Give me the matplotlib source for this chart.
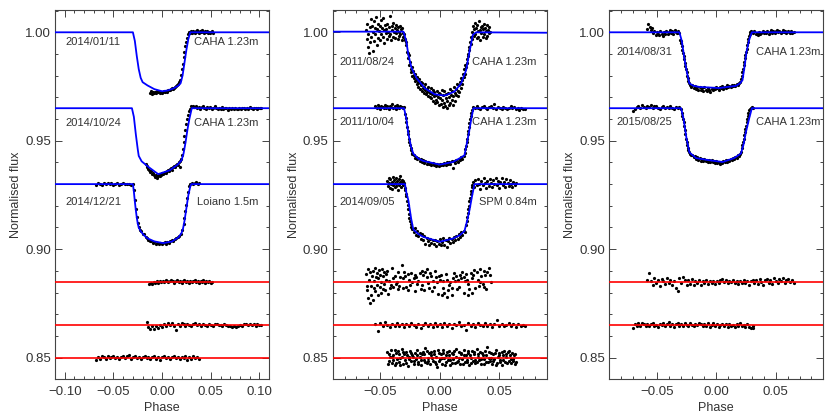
import numpy as np
import matplotlib.pyplot as plt
from matplotlib.ticker import MultipleLocator, FuncFormatter

plt.rcParams['font.family'] = ['Liberation Sans', 'DejaVu Sans']

# all phases and fluxes below are in units of 1e-3
# (phase, flux) pairs for the light curves, (phase, residual) for the residuals

# ---------------- left panel ----------------
fit_140111_x = [-110, -30, -28, -26, -24, -22, -20, -15, -8, 0, 6, 12, 17, 19, 21, 23, 25, 27, 29, 110]
fit_140111_y = [1000, 1000, 996, 989, 983, 979, 977, 975.5, 973.8, 972.8, 973.2, 974.2, 975.5, 976.5, 980, 986, 992, 997, 1000, 1000]
fit_141024_x = [-110, -31, -29, -27, -25, -24, -21, -14, -4, 8, 16, 20, 22, 24, 26, 28, 30.5, 110]
fit_141024_y = [965, 965, 961, 953, 946, 943, 940.5, 937.9, 934.6, 936.4, 939, 941, 944, 949, 955, 960, 965, 965]
fit_141221_x = [-110, -30, -29, -28, -27, -26, -25, -24, -22, -19, -15, -8, 1, 10, 17, 20, 21.5, 23, 25, 27, 29, 30, 110]
fit_141221_y = [930, 930, 926.5, 922, 918, 914.5, 911.8, 910, 908.3, 906.6, 905, 903.6, 902.8, 903.5, 905.5, 907.5, 909.5, 913, 919, 925, 929, 930, 930]

lc_140111 = [(-12, 972.0), (-11, 972.8), (-10, 971.6), (-9, 972.4), (-8, 971.9), (-7, 972.6), (-6, 972.2), (-5, 972.9),
             (-4, 972.3), (-3, 972.7), (-2, 971.8), (-1, 972.5), (0, 972.0), (1, 972.6), (2, 972.9), (3, 972.3), (4, 973.0),
             (5, 972.6), (6, 973.3), (7, 973.6), (8, 973.2), (9, 973.9), (10, 974.1), (11, 973.8), (12, 974.5), (13, 974.9),
             (14, 975.2), (15, 975.6), (16, 976.2), (17, 977.0), (18, 978.2), (19, 980.5), (20, 983.0), (21, 985.5),
             (22, 988.5), (23, 991.0), (24, 993.5), (25, 995.5), (26, 997.5), (27, 999.0), (28, 1000.2), (29, 999.6),
             (30, 1000.4), (31, 999.8), (32, 1000.6), (33, 1000.1), (34, 999.7), (35, 1000.5), (36, 1001.2), (37, 1000.2),
             (38, 999.8), (39, 1000.6), (40, 1000.0), (41, 1000.9), (42, 1000.3), (43, 999.6), (44, 1000.5), (45, 1000.1),
             (46, 1000.7), (47, 999.9), (48, 1000.3), (49, 999.7), (50, 1000.2), (51, 1000.4), (52, 999.9)]
lc_141024 = [(-17, 939.5), (-16, 938.5), (-15, 937.8), (-14, 937.0), (-13, 936.3), (-12, 935.6), (-11, 936.0), (-10, 934.8),
             (-9, 935.2), (-8, 934.2), (-7, 933.4), (-6, 934.0), (-5, 933.0), (-4, 933.8), (-3, 934.5), (-2, 933.6),
             (-1, 934.3), (0, 935.0), (1, 934.6), (2, 935.3), (3, 935.8), (4, 935.2), (5, 936.0), (6, 936.5), (7, 936.1),
             (8, 936.9), (9, 937.4), (10, 936.3), (11, 937.8), (12, 938.4), (13, 937.9), (14, 938.9), (15, 939.5),
             (16, 939.0), (17, 940.2), (18, 938.0), (18.5, 940.8), (19, 941.5), (20, 943.5), (21, 946.0), (22, 949.5),
             (23, 952.0), (24, 955.0), (25, 957.5), (26, 960.0), (27, 962.0), (28, 963.5), (29, 964.6), (30, 965.8),
             (31.5, 966.2), (33, 965.4), (34.5, 966.0), (36, 965.1), (37.5, 965.7), (39, 964.8), (40.5, 965.5),
             (42, 965.9), (43.5, 965.2), (45, 964.7), (46.5, 965.6), (48, 965.0), (49.5, 965.4), (51, 964.6), (52.5, 965.3),
             (54, 965.8), (55.5, 965.0), (57, 964.5), (58.5, 965.2), (60, 964.8), (61.5, 965.5), (63, 964.6), (64.5, 965.1),
             (66, 964.9), (67.5, 964.4), (69, 965.2), (70.5, 964.7), (72, 965.0), (73.5, 964.6), (75, 965.3), (76.5, 964.8),
             (78, 964.5), (79.5, 965.0), (81, 964.7), (82.5, 965.2), (84, 964.9), (85.5, 964.5), (87, 965.1), (88.5, 964.8),
             (90, 965.4), (91.5, 964.9), (93, 964.6), (94.5, 965.2), (96, 965.0), (97.5, 964.7), (99, 965.3), (100.5, 964.9),
             (102, 965.1)]
lc_141221 = [(-68, 929.8), (-66, 930.5), (-64, 930.1), (-62, 929.6), (-60, 930.4), (-58, 930.0), (-56, 930.6), (-54, 929.9),
             (-52, 930.3), (-50, 929.7), (-48, 930.2), (-46, 930.5), (-44, 929.8), (-42, 930.1), (-40, 930.4), (-38, 929.9),
             (-36, 930.2), (-34, 930.0), (-32, 929.7), (-30, 930.1), (-29, 927.5), (-28, 922.5), (-27, 918.5), (-26, 915.0),
             (-25, 912.0), (-24, 910.2), (-23, 909.0), (-21.5, 908.2), (-20, 907.0), (-18.5, 906.8), (-17, 905.5),
             (-15.5, 905.0), (-14, 904.3), (-12.5, 903.6), (-11, 903.9), (-9.5, 902.9), (-8, 903.2), (-6.5, 902.5),
             (-5, 903.0), (-3.5, 902.4), (-2, 902.9), (-0.5, 902.2), (1, 902.7), (2.5, 903.1), (4, 902.6), (5.5, 903.4),
             (7, 903.0), (8.5, 903.8), (10, 904.2), (11.5, 903.7), (13, 904.6), (14.5, 905.0), (16, 905.6), (17.5, 906.0),
             (19, 907.2), (20.5, 909.0), (22, 911.5), (23, 914.5), (24, 917.5), (25, 920.5), (26, 923.5), (27, 926.5),
             (28, 929.0), (29, 930.2), (30.5, 930.6), (32, 929.9), (33.5, 930.4), (35, 930.8), (36.5, 930.1), (38, 930.5)]

res_140111 = [(-13, -1.0), (-11.5, -0.6), (-10, -1.2), (-8.5, -0.3), (-7, -0.8), (-5.5, 0.2), (-4, -0.5), (-2.5, 0.3),
              (-1, -0.2), (0.5, 0.5), (2, 0.0), (3.5, 0.6), (5, 0.2), (6.5, -0.3), (8, 0.4), (9.5, 0.7), (11, 0.1),
              (12.5, -0.4), (14, 0.3), (15.5, 0.8), (17, -0.1), (18.5, 0.4), (20, -0.5), (21.5, 0.2), (23, 0.6),
              (24.5, -0.2), (26, 0.1), (27.5, -0.6), (29, 0.3), (30.5, -0.1), (32, 0.5), (33.5, 1.0), (35, -0.3),
              (36.5, 0.2), (38, -0.4), (39.5, 0.4), (41, -0.1), (42.5, 0.6), (44, -0.5), (45.5, 0.1), (47, -0.2),
              (48.5, 0.3), (50, -0.6), (51.5, 0.0)]
res_141024 = [(-16, 1.5), (-14, -0.8), (-12, -1.6), (-10, -0.4), (-8, -1.8), (-6, -0.6), (-4, -1.2), (-2, 0.2), (0, -0.9),
              (2, 0.4), (4, -0.3), (6, 0.8), (8, 0.2), (10, 1.0), (12, -0.4), (14, -2.4), (16, 0.6), (18, -0.2), (20, 0.9),
              (22, 0.3), (24, -0.5), (26, 0.7), (28, 0.1), (30, -0.3), (32, 0.5), (34, 0.9), (36, 0.0), (38, 0.4),
              (40, -0.4), (42, 0.6), (44, 0.2), (46, -0.2), (48, 0.5), (50, 0.1), (52, -0.5), (54, 0.3), (56, 0.7),
              (58, -0.1), (60, 0.2), (62, -0.4), (64, 0.4), (66, 0.0), (68, -0.6), (70, -0.2), (72, -0.8), (74, -0.5),
              (76, -0.9), (78, -0.3), (80, 0.2), (82, -0.4), (84, 0.3), (86, 0.6), (88, -0.1), (90, 0.4), (92, 0.1),
              (94, 0.5), (96, -0.2), (98, 0.3), (100, 0.0), (102, 0.2)]
res_141221 = [(-68, -1.0), (-66, 0.4), (-64, -0.6), (-62, 0.9), (-60, 0.1), (-58, -0.5), (-56, 0.6), (-54, -0.3), (-52, 0.2),
              (-50, 0.8), (-48, -0.4), (-46, 0.5), (-44, -0.7), (-42, 0.3), (-40, 0.9), (-38, -0.2), (-36, 0.6), (-34, 1.0),
              (-32, -0.5), (-30, 0.4), (-28, 0.8), (-26, -0.3), (-24, 0.5), (-22, -0.6), (-20, 0.2), (-18, 0.9),
              (-16, -0.4), (-14, 0.3), (-12, -0.8), (-10, 0.1), (-8, 0.6), (-6, -0.5), (-4, 0.2), (-2, -0.9), (0, 0.4),
              (2, 0.8), (4, -0.2), (6, 0.5), (8, -0.6), (10, 0.3), (12, 0.9), (14, -0.4), (16, 0.1), (18, -0.7),
              (20, 0.4), (22, -0.3), (24, 0.6), (26, -0.9), (28, 0.2), (30, -0.5), (32, 0.7), (34, -0.2), (36, 0.4),
              (38, -0.6)]

# ---------------- middle panel ----------------
fit_110824_x = [-90, -30.5, -28, -26.4, -23.6, -19.4, -12.5, -4.2, 4.2, 12.5, 18, 22.2, 25, 27.8, 30.6, 90]
fit_110824_y = [1000.3, 1000.3, 995.7, 989.6, 983.4, 978.8, 974.2, 971.4, 970.8, 972.7, 976.5, 982.6, 991.1, 998.8, 1000, 999.8]
fit_111004_x = [-90, -30, -28, -26.4, -24, -22.2, -18, -13.9, 0, 11.1, 17, 20.8, 22.5, 24.4, 26.5, 28.3, 90]
fit_111004_y = [965, 965, 960, 953.3, 947, 944, 941.8, 940.7, 939, 940.2, 942, 943.3, 948, 953.3, 960, 965, 965]
fit_140905_x = [-90, -29.2, -28, -26.4, -24, -22.2, -18, -13.9, 0, 11.1, 17, 20.8, 23, 25, 27, 29.2, 90]
fit_140905_y = [930, 930, 926, 922.6, 914, 909.1, 907, 905.7, 903.4, 904.9, 906.5, 908.4, 913, 918, 924, 930, 930]

lc_110824 = [(-62, 1001), (-61.5, 997), (-61, 1004), (-60.5, 993), (-60, 999), (-59.5, 990.5), (-59, 1002.5), (-58.5, 995.5),
             (-58, 1006), (-57.5, 998), (-57, 1003), (-56.5, 991.5), (-56, 1000), (-55.5, 1005), (-55, 996), (-54.5, 1002),
             (-54, 999), (-53.5, 1007), (-53, 994), (-52.5, 1001.5), (-52, 1004), (-51.5, 997.5), (-51, 1000.5),
             (-50.5, 1003), (-50, 996.5), (-49.5, 1005.5), (-49, 999), (-48.5, 1002), (-48, 998), (-47.5, 1006.5),
             (-47, 1001), (-46.5, 995), (-46, 1003.5), (-45.5, 999.5), (-45, 1001.5), (-44.5, 997), (-44, 1004),
             (-43.5, 1000), (-43, 998.5), (-42.5, 1002.5), (-42, 1007.5), (-41.5, 999), (-41, 996.5), (-40.5, 1003),
             (-40, 1001), (-39.5, 998), (-39, 1004.5), (-38.5, 1000), (-38, 997.5), (-37.5, 1002), (-37, 999.5),
             (-36.5, 1003.5), (-36, 1001), (-35.5, 997), (-35, 1002.5), (-34.5, 1000), (-34, 998.5), (-33.5, 1003),
             (-33, 999), (-32.5, 1001.5), (-32, 996.5), (-31.5, 1002), (-31, 999.5), (-30.5, 998),
             (-30, 999), (-29.5, 997), (-29, 996.5), (-28.5, 994), (-28, 995.5), (-27.5, 991), (-27, 990.5), (-26.5, 988),
             (-26, 989.5), (-25.5, 985), (-25, 986.5), (-24.5, 983), (-24, 981.5), (-23.5, 984), (-23, 980), (-22.5, 982),
             (-22, 979), (-21.5, 980.5), (-21, 977.5), (-20.5, 981), (-20, 978), (-19.5, 976), (-19, 979.5), (-18.5, 977),
             (-18, 975), (-17.5, 978.5), (-17, 976.5), (-16.5, 974), (-16, 977), (-15.5, 975.5), (-15, 973), (-14.5, 976.5),
             (-14, 974.5), (-13.5, 972), (-13, 975), (-12.5, 973.5), (-12, 976), (-11.5, 971.5), (-11, 974), (-10.5, 972.5),
             (-10, 970.5), (-9.5, 975), (-9, 973), (-8.5, 970), (-8, 972), (-7.5, 974.5), (-7, 969.5), (-6.5, 971.5),
             (-6, 973.5), (-5.5, 968.5), (-5, 970.5), (-4.5, 972.5), (-4, 967.5), (-3.5, 971), (-3, 969), (-2.5, 973),
             (-2, 968), (-1.5, 970), (-1, 972), (-0.5, 966.5), (0, 969.5), (0.5, 971.5), (1, 967), (1.5, 973.5), (2, 969),
             (2.5, 965.5), (3, 971), (3.5, 967.5), (4, 973), (4.5, 966), (5, 969.5), (5.5, 971.5), (6, 965), (6.5, 968.5),
             (7, 972), (7.5, 966.5), (8, 970), (8.5, 974), (9, 967.5), (9.5, 971), (10, 969), (10.5, 973), (11, 966.5),
             (11.5, 970.5), (12, 975), (12.5, 972), (13, 968.5), (13.5, 974), (14, 971), (14.5, 976), (15, 973),
             (15.5, 970.5), (16, 975.5), (16.5, 972.5), (17, 977), (17.5, 974.5), (18, 979), (18.5, 976), (19, 978),
             (19.5, 981), (20, 979.5), (20.5, 983), (21, 981), (21.5, 985), (22, 984), (22.5, 987.5), (23, 986),
             (23.5, 990), (24, 989), (24.5, 993), (25, 992), (25.5, 995.5), (26, 994.5), (26.5, 998), (27, 997),
             (27.5, 1000), (28, 1003), (28.5, 998.5), (29, 1001.5), (29.5, 1004.5), (30, 999), (30.5, 1002), (31, 997.5),
             (31.5, 1003.5), (32, 1000.5), (32.5, 998), (33, 1005), (33.5, 1001), (34, 996.5), (34.5, 1002.5),
             (35, 999.5), (35.5, 1003), (36, 998), (36.5, 1001.5), (37, 1004), (37.5, 999), (38, 1002), (38.5, 997.5),
             (39, 1000.5), (39.5, 1003.5), (40, 998.5), (40.5, 1001), (41, 999.5), (41.5, 1002.5), (42, 1000)]
lc_111004 = [(-54, 966.0), (-53, 965.2), (-52, 966.6), (-51, 965.5), (-50, 964.8), (-49, 966.2), (-48, 965.7), (-47, 964.9),
             (-46, 966.4), (-45, 965.3), (-44, 965.9), (-43, 964.6), (-42, 966.1), (-41, 965.4), (-40, 966.8), (-39, 965.0),
             (-38, 965.8), (-37, 964.7), (-36, 966.3), (-35, 965.6), (-34, 965.1), (-33, 966.0), (-32, 965.4), (-31, 964.9),
             (-30, 965.5), (-29, 962.5), (-28.5, 960.5), (-28, 958.5), (-27.5, 956.5), (-27, 954.5), (-26.5, 953),
             (-26, 951), (-25.5, 949.5), (-25, 948), (-24.5, 946.5), (-24, 945.5), (-23.5, 944.5), (-23, 943.8),
             (-22, 943.2), (-21, 942.0), (-20, 942.6), (-19, 941.4), (-18, 942.1), (-17, 940.8), (-16, 941.5), (-15, 940.3),
             (-14, 941.2), (-13, 939.8), (-12, 940.6), (-11, 939.5), (-10, 940.2), (-9, 939.1), (-8, 939.9), (-7, 938.8),
             (-6, 939.6), (-5, 938.6), (-4, 939.4), (-3, 938.5), (-2, 939.3), (-1, 938.4), (0, 939.2), (1, 938.7),
             (2, 939.5), (3, 938.6), (4, 939.8), (5, 938.9), (6, 940.0), (7, 939.2), (8, 940.3), (9, 939.4), (10, 940.5),
             (11, 937.6), (12, 940.6), (13, 939.9), (14, 941.1), (15, 940.4), (16, 941.6), (17, 941.0), (18, 942.3),
             (19, 941.8), (20, 943.0), (21, 944.5), (21.5, 946), (22, 947.5), (22.5, 949.5), (23, 951), (23.5, 953),
             (24, 954.5), (24.5, 956.5), (25, 958), (25.5, 960), (26, 961.5), (26.5, 963), (27, 964.2), (28, 965.6),
             (29.5, 964.9), (31, 965.8), (32.5, 965.2), (34, 964.6), (35.5, 965.5), (37, 965.9), (38.5, 965.0),
             (40, 964.7), (41.5, 965.4), (43, 966.0), (44.5, 965.1), (46, 966.8), (47.5, 964.8), (49, 965.5), (50.5, 965.2),
             (52, 964.6), (53.5, 965.7), (55, 965.0), (56.5, 964.5), (58, 965.3), (59.5, 965.8), (61, 964.9), (62.5, 965.4),
             (64, 964.7), (65.5, 965.2), (67, 964.4), (68.5, 965.0), (70, 964.8), (71.5, 964.5)]
lc_140905 = [(-44, 931.5), (-43.5, 929.0), (-43, 933.0), (-42.5, 930.5), (-42, 928.2), (-41.5, 932.2), (-41, 930.0),
             (-40.5, 927.8), (-40, 931.0), (-39.5, 933.5), (-39, 929.5), (-38.5, 931.8), (-38, 928.8), (-37.5, 930.6),
             (-37, 932.8), (-36.5, 929.2), (-36, 931.4), (-35.5, 927.5), (-35, 930.2), (-34.5, 932.4), (-34, 929.8),
             (-33.5, 931.2), (-33, 933.8), (-32.5, 928.6), (-32, 930.8), (-31.5, 932.0), (-31, 929.4), (-30.5, 931.6),
             (-30, 930.4), (-29.5, 928.4), (-29, 927.5), (-28.5, 925.5), (-28, 924.5), (-27.5, 922), (-27, 920.5),
             (-26.5, 918.5), (-26, 916), (-25.5, 914.5), (-25, 913), (-24.5, 911.5), (-24, 910.2), (-23, 909.5),
             (-22, 907.8), (-21, 909.9), (-20, 906.6), (-19, 908.4), (-18, 905.9), (-17, 907.6), (-16, 904.8), (-15, 906.9),
             (-14, 904.3), (-13, 906.2), (-12, 902.6), (-11, 905.3), (-10, 903.8), (-9, 901.9), (-8, 904.9), (-7, 902.8),
             (-6, 904.3), (-5, 902.2), (-4, 904.1), (-3, 901.6), (-2, 903.7), (-1, 902.4), (0, 904.6), (1, 901.8),
             (2, 903.3), (3, 905.0), (4, 902.1), (5, 904.2), (6, 900.9), (7, 903.6), (8, 905.3), (9, 902.8), (10, 904.7),
             (11, 903.2), (12, 905.8), (13, 904.1), (14, 906.3), (15, 904.9), (16, 907.1), (17, 905.6), (18, 907.9),
             (19, 906.4), (20, 908.6), (21, 907.8), (22, 911), (22.5, 913), (23, 915), (23.5, 916.5), (24, 918.5),
             (24.5, 920), (25, 922), (25.5, 923.5), (26, 925.5), (26.5, 927), (27, 928.5), (27.5, 929.5), (28, 930.8),
             (29, 928.6), (30, 931.9), (31, 929.4), (32, 932.5), (33, 930.1), (34, 927.8), (35, 931.3), (36, 929.7),
             (37, 932.8), (38, 930.4), (39, 928.3), (40, 931.6), (41, 929.1), (42, 932.2), (43, 930.7), (44, 928.9),
             (45, 931.9), (46, 930.0), (47, 933.0), (48, 929.5), (49, 931.4), (50, 928.2), (51, 930.9), (52, 932.6),
             (53, 929.8), (54, 931.1), (55, 928.7), (56, 932.3), (57, 930.5), (58, 929.2), (59, 931.8), (60, 930.2),
             (61, 928.5), (62, 931.0), (63, 929.6), (64, 930.3)]

res_110824 = [(-62, 3.5), (-61, -4), (-60, -7.5), (-59, -10), (-58, -2), (-57, 2.5), (-56, 5), (-55, 0.5), (-54, -4.5),
              (-53, -1.5), (-52, -6), (-51, 5.5), (-50, 3), (-49, 0), (-48, -3.5), (-47, -1), (-46, -4), (-45, 3.5),
              (-44, 5), (-43, 0.5), (-42, -3), (-41, -1.5), (-40, 6.5), (-39, 1.5), (-38, 2.5), (-37, -1), (-36, 0),
              (-35, 4.5), (-34, -2), (-33, 2), (-32, 7.5), (-31, -3), (-30, 4.5), (-29, 2.5), (-28, -2.5), (-27, 3.5),
              (-26, 1), (-25, -1.5), (-24, 4), (-23, 0), (-22, 1.5), (-21, 3), (-20, 2), (-19, -1), (-18, 0.5), (-17, 4),
              (-16, -3.5), (-15, 5), (-14, 3), (-13, -4), (-12, 4.5), (-11, 2), (-10, -0.5), (-9, -3), (-8, 4), (-7, 2.5),
              (-6, 0.5), (-5, -2.5), (-4, 5), (-3, 2), (-2, 0), (-1, 2.5), (0, 1), (1, 3), (2, -6), (3, -3), (4, -5),
              (5, 3.5), (6, -7), (7, -4), (8, -1.5), (9, 0), (10, -3), (11, 1.5), (12, 4), (13, 0.5), (14, 2.5), (15, 1),
              (16, -2.5), (17, 3), (18, 1.5), (19, 4.5), (20, 2), (21, 0.5), (22, 3.5), (23, 1), (24, -1), (25, -3.5),
              (26, 4), (27, 1.5), (28, 3), (29, 5.5), (30, -3), (31, 4.5), (32, 1), (33, -2), (34, 0), (35, 2.5), (36, -1),
              (37, 5), (38, 3), (39, -3.5), (40, 4.5), (41, 6.5), (42, 3), (43, 0),
              (-61.5, -2), (-60.5, 6), (-59.5, 1), (-58.5, 4.5), (-57.5, -6), (-56.5, -8.5), (-55.5, -3), (-54.5, 6.5),
              (-53.5, 2), (-52.5, 4), (-51.5, 1.5), (-50.5, -2.5), (-49.5, -5), (-48.5, 6), (-47.5, 2.5), (-46.5, 4.5),
              (-45.5, 1), (-43.5, -5.5), (-39.5, -2.5), (-35.5, -3.5), (-30.5, 1.5), (-26.5, -4), (-20.5, -4.5),
              (-14.5, -1.5), (-10.5, 6), (-6.5, -4.5), (-1.5, -5.5), (2.5, 0.5), (6.5, 1), (10.5, -6), (14.5, -3.5),
              (20.5, -5), (23.5, -6), (27.5, -5), (33.5, 6), (37.5, -2.5)]
res_111004 = [(-54, 0.5), (-52, -2.5), (-50, 0.8), (-48, -0.4), (-46, 1.2), (-44, 0.1), (-42, -0.9), (-40, 0.6), (-38, -0.2),
              (-36, 1.0), (-34, -0.6), (-32, 0.3), (-30, -1.1), (-28, 0.7), (-26, -0.3), (-24, 0.9), (-22, 0.0),
              (-20, -0.8), (-18, 0.5), (-16, -1.3), (-14, 0.2), (-12, 1.1), (-10, -0.5), (-8, 0.4), (-6, -1.0), (-4, 0.8),
              (-2, -0.2), (0, 0.6), (2, -0.7), (4, 1.0), (6, -0.3), (8, 0.3), (10, -1.4), (12, 0.7), (14, -0.1), (16, 1.2),
              (18, -0.6), (20, 0.2), (22, -2.2), (24, 0.9), (26, -0.4), (28, 0.5), (30, -0.9), (32, 0.8), (34, 0.0),
              (36, -0.5), (38, 1.1), (40, -0.2), (42, 0.4), (44, -1.0), (46, 0.6), (48, 2.3), (50, -0.3), (52, 0.7),
              (54, -0.6), (56, 0.2), (58, 1.0), (60, -0.4), (62, 0.3), (64, -0.8), (66, 0.5), (68, -0.2), (70, 0.1),
              (72, -0.5)]
res_140905 = [(-44, 2.5), (-43, -1.5), (-42, 0.5), (-41, 3.5), (-40, -2.5), (-39, 1.0), (-38, -3.5), (-37, 2.0), (-36, -0.5),
              (-35, 3.0), (-34, -2.0), (-33, 0.0), (-32, 4.0), (-31, -3.0), (-30, 1.5), (-29, -1.0), (-28, 2.5), (-27, -4.0),
              (-26, 0.5), (-25, 3.0), (-24, -1.5), (-23, 1.0), (-22, -3.0), (-21, 2.0), (-20, -0.5), (-19, 3.5), (-18, -2.0),
              (-17, 0.5), (-16, -3.5), (-15, 1.5), (-14, 2.5), (-13, -1.0), (-12, 4.5), (-11, -2.5), (-10, 0.0), (-9, 2.0),
              (-8, -3.0), (-7, 1.0), (-6, -1.5), (-5, 3.0), (-4, -2.0), (-3, 0.5), (-2, -4.5), (-1, 2.0), (0, -0.5),
              (1, 1.5), (2, -3.0), (3, 3.5), (4, 0.0), (5, -2.0), (6, 2.5), (7, -1.0), (8, 1.0), (9, -3.5), (10, 2.0),
              (11, -0.5), (12, 3.0), (13, -2.5), (14, 0.5), (15, -1.5), (16, 2.5), (17, -3.0), (18, 1.5), (19, -0.5),
              (20, 3.5), (21, -2.0), (22, 1.0), (23, -1.0), (24, 2.0), (25, -3.5), (26, 0.0), (27, 3.0), (28, -1.5),
              (29, 1.5), (30, -2.5), (31, 4.0), (32, 0.5), (33, -1.0), (34, 2.5), (35, -3.0), (36, 1.0), (37, -0.5),
              (38, 3.0), (39, -2.0), (40, 5.0), (41, 0.0), (42, -1.5), (43, 2.0), (44, -3.0), (45, 1.5), (46, -0.5),
              (47, 3.5), (48, -2.5), (49, 0.5), (50, 2.0), (51, -1.0), (52, -3.5), (53, 1.0), (54, 3.0), (55, -2.0),
              (56, 0.5), (57, 2.5), (58, -1.5), (59, 1.0), (60, -2.5), (61, 2.0), (62, -0.5), (63, 1.5), (64, -2.0),
              (-43.5, -3.0), (-42.5, 1.5), (-40.5, 0.5), (-39.5, -1.0), (-37.5, 3.5), (-36.5, -2.5), (-34.5, 1.5),
              (-33.5, -3.5), (-31.5, 0.5), (-30.5, 2.5), (-28.5, -2.5), (-27.5, 1.0), (-25.5, -0.5), (-24.5, 2.0),
              (-22.5, 0.5), (-21.5, -1.5), (-19.5, 1.0), (-18.5, -3.0), (-16.5, 2.0), (-15.5, -1.0), (-13.5, 1.5),
              (-12.5, -2.0), (-10.5, 3.0), (-9.5, -1.5), (-7.5, 2.5), (-6.5, 0.0), (-4.5, 1.5), (-3.5, -3.0),
              (-1.5, 3.5), (-0.5, -1.5), (1.5, 0.0), (2.5, 2.0), (4.5, -3.5), (5.5, 1.0), (7.5, 3.0), (8.5, -1.0),
              (10.5, -2.5), (11.5, 1.5), (13.5, 4.0), (14.5, -2.0), (16.5, 0.0), (17.5, 2.0), (19.5, -3.0), (20.5, 1.0),
              (22.5, -2.0), (23.5, 3.0), (25.5, 1.0), (26.5, -2.5), (28.5, 2.5), (29.5, -1.0), (31.5, -2.0), (32.5, 1.5),
              (34.5, -0.5), (35.5, 2.0), (37.5, -3.0), (38.5, 1.0), (40.5, -2.0), (41.5, 2.5), (43.5, 0.0), (44.5, -1.5),
              (46.5, 2.0), (47.5, -3.5), (49.5, 1.0), (50.5, -2.0), (52.5, 2.5), (53.5, -1.0), (55.5, 1.5), (56.5, -2.5),
              (58.5, 3.0), (59.5, -0.5), (61.5, -1.5), (62.5, 1.0), (63.5, -3.0)]

# ---------------- right panel ----------------
fit_140831_x = [-90, -31, -29, -26.8, -24.5, -22.6, -19, -14.2, 2.5, 16.5, 20, 22, 23.7, 25.4, 27.6, 29.9, 90]
fit_140831_y = [1000, 1000, 996, 987.9, 981, 976.4, 975.3, 974.8, 974.3, 975.3, 976.5, 977.9, 984, 991, 996.5, 1000, 1000]
fit_150825_x = [-90, -29.6, -27.5, -25, -22.6, -17, -5.9, 5.3, 15, 20.7, 23, 24.9, 27.5, 29.9, 90]
fit_150825_y = [965, 965, 960, 951, 944.6, 942, 941, 940.2, 942, 944.1, 948.5, 954, 960, 965, 965]

lc_140831 = [(-58, 1001.5), (-57, 1003.8), (-56, 1002.6), (-55, 1001.0), (-54, 1002.2), (-53, 999.8), (-52, 1000.6),
             (-51, 998.9), (-50, 1000.2), (-49, 999.3), (-48, 998.7), (-47, 1000.4), (-46, 999.1), (-45, 998.5),
             (-44, 1000.0), (-43, 999.4), (-42, 1000.8), (-41, 999.0), (-40, 1000.3), (-39, 1001.2), (-38, 999.6),
             (-37, 1000.7), (-36, 999.2), (-35, 1001.0), (-34, 1000.1), (-33, 999.5), (-32, 1000.6), (-31, 999.8),
             (-30.5, 996.5), (-30, 995.8), (-29.5, 995), (-29, 993.5), (-28.5, 992), (-28, 990.5), (-27.5, 989),
             (-27, 987.5), (-26.5, 986), (-26, 984.5), (-25.5, 983), (-25, 981.5), (-24.5, 980), (-24, 978.8),
             (-23.5, 977.6), (-23, 976.8), (-22, 975.9), (-21, 974.8), (-20, 975.6), (-19, 974.3), (-18, 975.2),
             (-17, 974.0), (-16, 974.9), (-15, 973.6), (-14, 974.6), (-13, 973.3), (-12, 974.4), (-11, 973.1),
             (-10, 974.7), (-9, 973.5), (-8, 972.8), (-7, 974.2), (-6, 973.4), (-5, 972.6), (-4, 974.0), (-3, 973.2),
             (-2, 974.5), (-1, 973.7), (0, 974.8), (1, 974.1), (2, 973.6), (3, 974.9), (4, 974.3), (5, 975.2), (6, 974.0),
             (7, 975.0), (8, 974.4), (9, 975.6), (10, 974.8), (11, 975.3), (12, 974.6), (13, 975.8), (14, 975.1),
             (15, 975.9), (16, 975.4), (17, 976.3), (18, 975.7), (19, 976.8), (20, 977.2), (21, 978.5), (21.5, 980),
             (22, 981.5), (22.5, 983), (23, 985), (23.5, 986.5), (24, 988), (24.5, 989.5), (25, 991), (25.5, 992.5),
             (26, 994), (26.5, 995.5), (27, 997), (27.5, 998.2), (28, 999.2), (28.5, 1000), (29, 1000.8), (30, 1000.2),
             (31, 999.5), (32, 1000.6), (33, 999.0), (34, 999.8), (35, 998.9), (36, 1000.1), (37, 999.3), (38, 999.7),
             (39, 1000.5), (40, 999.6), (41, 1000.3), (42, 999.8), (43, 1000.7), (44, 999.4), (45, 1000.2), (46, 1000.9),
             (47, 999.7), (48, 1000.4), (49, 999.9), (50, 1000.6), (51, 1001.2), (52, 1000.0), (53, 1000.8), (54, 999.6),
             (55, 1000.3), (56, 1001.0), (57, 1000.1), (58, 1000.7), (59, 999.8), (60, 1000.5), (61, 1000.2), (62, 999.9),
             (63, 1000.4), (64, 999.7), (65, 1000.1)]
lc_150825 = [(-70, 963.8), (-68.5, 964.6), (-67, 965.4), (-65.5, 965.9), (-64, 965.2), (-62.5, 966.3), (-61, 965.6),
             (-59.5, 964.9), (-58, 966.1), (-56.5, 965.4), (-55, 966.6), (-53.5, 965.0), (-52, 965.8), (-50.5, 966.2),
             (-49, 965.3), (-47.5, 964.8), (-46, 965.7), (-44.5, 966.0), (-43, 965.1), (-41.5, 965.6), (-40, 964.9),
             (-38.5, 965.9), (-37, 965.3), (-35.5, 964.7), (-34, 965.5), (-32.5, 965.1), (-31, 965.4), (-30, 964.8),
             (-29, 963), (-28.5, 961.5), (-28, 960), (-27.5, 958.5), (-27, 957), (-26.5, 955), (-26, 953), (-25.5, 951),
             (-25, 949.5), (-24.5, 948), (-24, 946.5), (-23.5, 945.5), (-23, 944.8), (-22, 944.0), (-21, 943.2),
             (-20, 943.5), (-19, 942.4), (-18, 942.8), (-17, 941.6), (-16, 942.3), (-15, 941.2), (-14, 941.9),
             (-13, 940.8), (-12, 941.6), (-11, 940.7), (-10, 941.4), (-9, 940.5), (-8, 941.2), (-7, 940.4), (-6, 941.0),
             (-5, 940.2), (-4, 940.9), (-3, 940.1), (-2, 940.7), (-1, 939.9), (0, 940.5), (1, 939.6), (2, 940.3),
             (3, 939.4), (4, 940.1), (5, 939.7), (6, 940.6), (7, 940.0), (8, 940.9), (9, 940.4), (10, 941.3), (11, 940.8),
             (12, 941.7), (13, 941.2), (14, 942.1), (15, 941.7), (16, 942.6), (17, 942.2), (18, 943.2), (19, 943.0),
             (20, 943.9), (21, 945), (21.5, 946.5), (22, 948), (22.5, 949.5), (23, 951), (23.5, 952.5), (24, 954),
             (24.5, 955.5), (25, 957), (25.5, 958.5), (26, 960), (26.5, 961.5), (27, 963), (27.5, 964), (28, 964.8),
             (29, 965.3), (30, 965.6), (31, 965.2)]

res_140831 = [(-58, 1.0), (-56.5, 3.8), (-55, 0.5), (-53.5, -1.5), (-52, 1.6), (-50.5, -0.8), (-49, 0.9), (-47.5, -1.8),
              (-46, 1.2), (-44.5, 0.2), (-43, -1.2), (-41.5, 1.5), (-40, -0.5), (-38.5, 0.8), (-37, -1.6), (-35.5, 0.4),
              (-34, -2.8), (-32.5, -4.2), (-31, 1.9), (-29.5, -0.6), (-28, 2.2), (-26.5, 1.0), (-25, -1.4), (-23.5, 0.6),
              (-22, -0.9), (-20.5, 1.1), (-19, -1.7), (-17.5, 0.3), (-16, -0.7), (-14.5, 0.9), (-13, -1.3), (-11.5, 0.2),
              (-10, -0.5), (-8.5, 0.7), (-7, -1.0), (-5.5, 0.1), (-4, -0.6), (-2.5, 0.5), (-1, -1.1), (0.5, 0.3),
              (2, -0.4), (3.5, 0.8), (5, 1.4), (6.5, -0.2), (8, 0.6), (9.5, -0.8), (11, 0.4), (12.5, -0.3), (14, 0.9),
              (15.5, -0.6), (17, 0.2), (18.5, -1.0), (20, 0.5), (21.5, -0.4), (23, 0.8), (24.5, -0.7), (26, 0.1),
              (27.5, -1.3), (29, 0.4), (30.5, 1.0), (32, -0.5), (33.5, 0.7), (35, -0.9), (36.5, 1.2), (38, 0.0),
              (39.5, -1.5), (41, 0.6), (42.5, 1.3), (44, -0.4), (45.5, 0.9), (47, -1.1), (48.5, 1.5), (50, 0.3),
              (51.5, -0.8), (53, 1.1), (54.5, 0.4), (56, 1.7), (57.5, -0.6), (59, 0.9), (60.5, 1.4), (62, -0.3),
              (63.5, 0.7), (65, -0.5)]
res_150825 = [(-70, -1.2), (-68.5, 0.3), (-67, -0.5), (-65.5, 0.8), (-64, -0.2), (-62.5, 1.0), (-61, 0.4), (-59.5, -0.6),
              (-58, 0.7), (-56.5, -0.3), (-55, 0.5), (-53.5, 1.1), (-52, -0.4), (-50.5, 0.2), (-49, -0.8), (-47.5, 0.6),
              (-46, 0.0), (-44.5, 0.9), (-43, -0.5), (-41.5, 0.3), (-40, 1.2), (-38.5, -0.2), (-37, 0.6), (-35.5, -0.7),
              (-34, 0.4), (-32.5, 1.0), (-31, -0.3), (-29.5, 0.5), (-28, -0.6), (-26.5, 0.8), (-25, 0.1), (-23.5, -0.5),
              (-22, 0.9), (-20.5, 0.2), (-19, -0.4), (-17.5, 0.7), (-16, -0.1), (-14.5, 1.0), (-13, 0.3), (-11.5, -0.6),
              (-10, 0.5), (-8.5, -0.2), (-7, 0.8), (-5.5, -0.7), (-4, 0.2), (-2.5, 0.9), (-1, -0.4), (0.5, 0.4),
              (2, -0.9), (3.5, 0.1), (5, 0.7), (6.5, -0.5), (8, 0.3), (9.5, -0.8), (11, 0.6), (12.5, -0.3), (14, 0.2),
              (15.5, -0.9), (17, 0.5), (18.5, -0.4), (20, 0.8), (21.5, -0.6), (23, 0.1), (24.5, -1.0), (26, 0.4),
              (27.5, -0.7), (29, -1.3), (30.5, -0.2), (31, -1.5)]

panels = [
    dict(xlim=(-0.11, 0.11),
         fits=[(fit_140111_x, fit_140111_y), (fit_141024_x, fit_141024_y), (fit_141221_x, fit_141221_y)],
         curves=[lc_140111, lc_141024, lc_141221],
         resids=[(res_140111, 885), (res_141024, 865), (res_141221, 850)],
         labels=[('2014/01/11', 'CAHA 1.23m', 0.9955), ('2014/10/24', 'CAHA 1.23m', 0.9582),
                 ('2014/12/21', 'Loiano 1.5m', 0.9218)],
         lx=-0.0995, rx=0.0985),
    dict(xlim=(-0.09, 0.09),
         fits=[(fit_110824_x, fit_110824_y), (fit_111004_x, fit_111004_y), (fit_140905_x, fit_140905_y)],
         curves=[lc_110824, lc_111004, lc_140905],
         resids=[(res_110824, 885), (res_111004, 865), (res_140905, 850)],
         labels=[('2011/08/24', 'CAHA 1.23m', 0.9863), ('2011/10/04', 'CAHA 1.23m', 0.9587),
                 ('2014/09/05', 'SPM 0.84m', 0.9218)],
         lx=-0.084, rx=0.0815),
    dict(xlim=(-0.09, 0.09),
         fits=[(fit_140831_x, fit_140831_y), (fit_150825_x, fit_150825_y)],
         curves=[lc_140831, lc_150825],
         resids=[(res_140831, 885), (res_150825, 865)],
         labels=[('2014/08/31', 'CAHA 1.23m', 0.991), ('2015/08/25', 'CAHA 1.23m', 0.9587)],
         lx=-0.084, rx=0.0875),
]

lefts = [0.0663, 0.4008, 0.734]
txt = '#333333'


def fmt(v, pos):
    if abs(v) < 1e-9:
        v = 0.0
    return f'{v:.2f}'.replace('-', '\u2212')


fig = plt.figure(figsize=(8.3, 4.15), dpi=100)
for left, p in zip(lefts, panels):
    ax = fig.add_axes([left, 0.086, 0.258, 0.89])
    for pts in p['curves']:
        a = np.array(pts) / 1000.0
        ax.plot(a[:, 0], a[:, 1], 'o', color='black', ms=2.3, mew=0, zorder=2)
    for fx, fy in p['fits']:
        ax.plot(np.array(fx) / 1000.0, np.array(fy) / 1000.0, color='#0000ff', lw=1.3, zorder=3)
    for pts, off in p['resids']:
        a = np.array(pts)
        ax.plot(a[:, 0] / 1000.0, (off + a[:, 1]) / 1000.0, 'o', color='black', ms=2.3, mew=0, zorder=2)
        ax.axhline(off / 1000.0, color='#ff0000', lw=1.2, zorder=3)
    for date, tel, y in p['labels']:
        ax.text(p['lx'], y, date, fontsize=8, color=txt, ha='left', va='center')
        ax.text(p['rx'], y, tel, fontsize=8, color=txt, ha='right', va='center')

    ax.set_xlim(*p['xlim'])
    ax.set_ylim(0.84, 1.0103)
    ax.xaxis.set_major_locator(MultipleLocator(0.05))
    ax.xaxis.set_minor_locator(MultipleLocator(0.01))
    ax.yaxis.set_major_locator(MultipleLocator(0.05))
    ax.yaxis.set_minor_locator(MultipleLocator(0.01))
    ax.xaxis.set_major_formatter(FuncFormatter(fmt))
    ax.yaxis.set_major_formatter(FuncFormatter(fmt))
    ax.tick_params(which='both', direction='in', top=True, right=True, colors='#444444',
                   labelcolor=txt, labelsize=9.5, width=0.7)
    ax.tick_params(which='major', length=5)
    ax.tick_params(which='minor', length=2.5)
    ax.tick_params(axis='x', which='major', pad=5)
    ax.tick_params(axis='y', which='major', pad=3)
    for s in ax.spines.values():
        s.set_color('#444444')
        s.set_linewidth(0.8)
    ax.set_xlabel('Phase', fontsize=9, color=txt, labelpad=3)
    ax.set_ylabel('Normalised flux', fontsize=9, color=txt, labelpad=2)

fig.savefig('out.png', dpi=100)
